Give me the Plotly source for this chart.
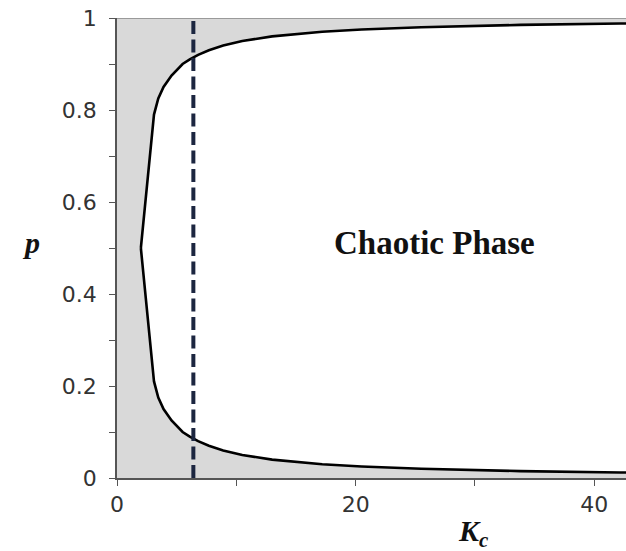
import plotly.graph_objects as go

# Upper branch (Kc, p)
upper_kc = [2.0, 3.1, 3.46, 3.9, 4.57, 5.5, 6.1, 6.8, 7.7, 8.9, 10.5, 13.0, 17.2, 20.5, 25.5, 33.8, 42.2, 47.0]
upper_p = [0.5, 0.79, 0.825, 0.85, 0.875, 0.90, 0.91, 0.92, 0.93, 0.94, 0.95, 0.96, 0.97, 0.975, 0.98, 0.985, 0.988, 0.989]
# Lower branch
lower_kc = [2.0, 3.1, 3.46, 3.9, 4.57, 5.5, 6.1, 6.8, 7.7, 8.9, 10.5, 13.0, 17.2, 20.5, 25.5, 33.8, 42.2, 47.0]
lower_p = [0.5, 0.21, 0.175, 0.15, 0.125, 0.10, 0.09, 0.08, 0.07, 0.06, 0.05, 0.04, 0.03, 0.025, 0.02, 0.015, 0.012, 0.011]

dashed_kc = 6.4
x_ticks = [0, 20, 40]
x_minor = [10, 30]
y_ticks = [0, 0.2, 0.4, 0.6, 0.8, 1]
y_ticklabels = ["0", "0.2", "0.4", "0.6", "0.8", "1"]
y_minor = [0.1, 0.3, 0.5, 0.7, 0.9]
x_range = [0, 42.66]
y_range = [0, 1]

GRAY = "#d9d9d9"
L, T, W, H = 117, 18, 509, 460

fig = go.Figure()

# White chaotic region (closed polygon)
poly_x = upper_kc + lower_kc[::-1]
poly_y = upper_p + lower_p[::-1]
fig.add_trace(go.Scatter(x=poly_x, y=poly_y, mode="lines", fill="toself",
                         fillcolor="white", line=dict(width=0), hoverinfo="skip",
                         showlegend=False))
fig.add_trace(go.Scatter(x=upper_kc, y=upper_p, mode="lines",
                         line=dict(color="black", width=2.6), showlegend=False))
fig.add_trace(go.Scatter(x=lower_kc, y=lower_p, mode="lines",
                         line=dict(color="black", width=2.6), showlegend=False))
fig.add_trace(go.Scatter(x=[dashed_kc, dashed_kc], y=[0, 1], mode="lines",
                         line=dict(color="#1c2640", width=4, dash="13px,5.5px"),
                         showlegend=False))

# top border
fig.add_shape(type="line", xref="x", yref="y", x0=0, x1=x_range[1], y0=1, y1=1,
              line=dict(color="#9a9a9a", width=2), layer="above")

fig.add_annotation(x=26.6, y=0.51, xref="x", yref="y", text="<b>Chaotic Phase</b>",
                   showarrow=False, font=dict(family="Liberation Serif", size=33, color="#111"))
fig.add_annotation(x=(31 - L) / W, y=(478 - 243) / H, xref="paper", yref="paper",
                   xanchor="center", yanchor="middle",
                   text="<b><i>p</i></b>", showarrow=False,
                   font=dict(family="Liberation Serif", size=30, color="#111"))
fig.add_annotation(x=(473 - L) / W, y=(478 - 533) / H, xref="paper", yref="paper",
                   xanchor="center", yanchor="middle",
                   text="<b><i>K<sub>c</sub></i></b>", showarrow=False,
                   font=dict(family="Liberation Serif", size=30, color="#111"))

fig.update_layout(
    width=626, height=551,
    margin=dict(l=L, r=0, t=T, b=73),
    paper_bgcolor="white", plot_bgcolor=GRAY,
    font=dict(family="DejaVu Sans", size=22, color="#333"),
)
fig.update_xaxes(range=x_range, tickvals=x_ticks, ticks="outside", ticklen=6,
                 tickcolor="#555", showgrid=False, zeroline=False, showline=True,
                 linecolor="#555", linewidth=1.5, ticklabelstandoff=0,
                 tickfont=dict(family="DejaVu Sans", size=22, color="#333"),
                 minor=dict(tickvals=x_minor, ticks="outside", ticklen=6, tickcolor="#555"))
fig.update_yaxes(range=y_range, tickvals=y_ticks, ticktext=y_ticklabels,
                 ticks="outside", ticklen=6, tickcolor="#555", showgrid=False,
                 zeroline=False, showline=True, linecolor="#555", linewidth=1.5,
                 ticklabelstandoff=8,
                 tickfont=dict(family="DejaVu Sans", size=22, color="#333"),
                 minor=dict(tickvals=y_minor, ticks="outside", ticklen=6,
                            tickcolor="#555"))

fig.write_html("out.html", config={"displayModeBar": False},
               post_script="document.body.style.margin='0';document.body.style.overflow='hidden';")
